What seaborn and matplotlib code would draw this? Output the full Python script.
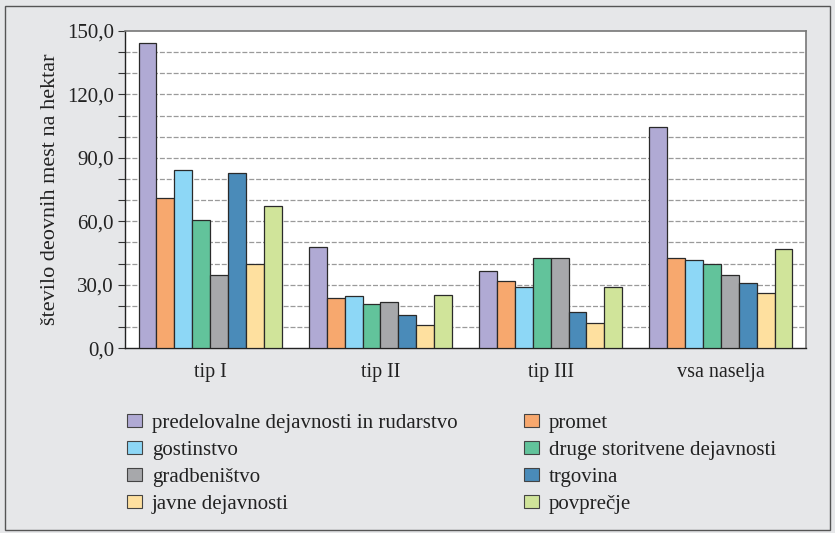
import matplotlib
matplotlib.use("Agg")
import matplotlib.pyplot as plt
import matplotlib.patches as mpatches
from matplotlib.ticker import MultipleLocator, FuncFormatter
import seaborn as sns
import pandas as pd
import numpy as np

# podatki, odčitani s slike
skupine = ['tip I', 'tip II', 'tip III', 'vsa naselja']
dejavnosti = ['predelovalne dejavnosti in rudarstvo', 'promet', 'gostinstvo',
              'druge storitvene dejavnosti', 'gradbeništvo', 'trgovina',
              'javne dejavnosti', 'povprečje']
barve = ['#b0aad4', '#f7a86e', '#8dd7f6', '#62c39b',
         '#a7a8ab', '#4a8bb9', '#fee09f', '#d0e49a']

predelovalne = [144.5, 48.0, 36.3, 104.4]
promet = [70.8, 23.5, 31.5, 42.4]
gostinstvo = [84.4, 24.5, 28.9, 41.6]
druge = [60.7, 20.7, 42.4, 39.9]
gradbenistvo = [34.4, 21.6, 42.4, 34.4]
trgovina = [82.7, 15.5, 17.0, 30.8]
javne = [39.9, 10.7, 11.7, 26.2]
povprecje = [67.2, 25.2, 28.9, 47.0]

vrednosti = [predelovalne, promet, gostinstvo, druge,
             gradbenistvo, trgovina, javne, povprecje]

rows = []
for dej, vals in zip(dejavnosti, vrednosti):
    for sk, v in zip(skupine, vals):
        rows.append({'skupina': sk, 'dejavnost': dej, 'vrednost': v})
df = pd.DataFrame(rows)

sns.set_style('white')
plt.rcParams['font.family'] = ['Liberation Serif', 'DejaVu Serif']

bg = '#e6e7e9'
txt = '#222222'
fig = plt.figure(figsize=(8.35, 5.33), dpi=100, facecolor=bg)
ax = fig.add_axes([0.1497, 0.347, 0.8156, 0.5948])
ax.set_facecolor('white')

sns.barplot(data=df, x='skupina', y='vrednost', hue='dejavnost',
            order=skupine, hue_order=dejavnosti, palette=barve, saturation=1,
            width=0.84, gap=0, edgecolor='#2a2a2a', linewidth=0.9,
            legend=False, ax=ax, zorder=3)

ax.set_ylim(0, 150)
ax.yaxis.set_major_locator(MultipleLocator(30))
ax.yaxis.set_minor_locator(MultipleLocator(10))
ax.yaxis.set_major_formatter(FuncFormatter(lambda v, p: f'{v:.1f}'.replace('.', ',')))
for y in np.arange(10, 150, 10):
    ax.axhline(y, color='#9a9a9a', linestyle=(0, (4, 1.5)), linewidth=0.9, zorder=1)

ax.tick_params(axis='y', which='both', direction='out', length=5, width=0.8,
               color='#333333', labelsize=15, labelcolor=txt, pad=3, left=True)
ax.tick_params(axis='x', length=0, labelsize=14.5, labelcolor=txt, pad=11)
ax.set_xlabel('')
ax.set_ylabel('število deovnih mest na hektar', fontsize=16, color=txt, labelpad=5)

for s in ['left', 'bottom']:
    ax.spines[s].set_color('#222222')
    ax.spines[s].set_linewidth(1.0)
for s in ['top', 'right']:
    ax.spines[s].set_color('#777777')
    ax.spines[s].set_linewidth(1.2)

# legenda v dveh stolpcih
handles = [mpatches.Patch(facecolor=c, edgecolor='#444444', linewidth=0.8, label=d)
           for c, d in zip(barve, dejavnosti)]
for col, x0 in [(0, 127 / 835), (1, 524 / 835)]:
    idx = [col, col + 2, col + 4, col + 6]
    fig.legend([handles[i] for i in idx], [dejavnosti[i] for i in idx],
               loc='upper left', bbox_to_anchor=(x0, 0.224), ncol=1,
               frameon=False, fontsize=15, handlelength=0.7,
               handleheight=0.63, handletextpad=0.5, labelspacing=0.38,
               borderpad=0, borderaxespad=0, labelcolor=txt)

# okvir slike
fig.patches.append(mpatches.Rectangle((0.006, 0.006), 0.988, 0.983,
                                      transform=fig.transFigure, fill=False,
                                      edgecolor='#555555', linewidth=1.0))

fig.savefig('out.png', dpi=100, facecolor=bg)
